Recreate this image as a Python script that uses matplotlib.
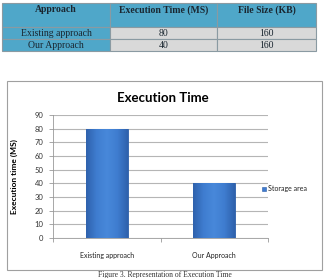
import numpy as np
import matplotlib.pyplot as plt
from matplotlib.patches import Rectangle
from matplotlib.colors import LinearSegmentedColormap

# table data
col_labels = ["Approach", "Execution Time (MS)", "File Size (KB)"]
approaches = ["Existing approach", "Our Approach"]
exec_times = [80, 40]
file_sizes = [160, 160]

# chart data
categories = ["Existing approach", "Our Approach"]
series_name = "Storage area"
series_values = [80, 40]
y_ticks = [0, 10, 20, 30, 40, 50, 60, 70, 80, 90]

W, H = 328, 278
fig = plt.figure(figsize=(W / 100, H / 100), dpi=100)


def box(x0, y0, x1, y1):
    """pixel box (top-left origin) -> figure fraction rect"""
    return [x0 / W, 1 - y1 / H, (x1 - x0) / W, (y1 - y0) / H]


# ---- table ----
header_blue = "#4fa7c9"
cell_gray = "#d9d9d9"
tax = fig.add_axes(box(2, 3, 316, 51))
tax.axis("off")
rows = [[a, str(e), str(f)] for a, e, f in zip(approaches, exec_times, file_sizes)]
tbl = tax.table(cellText=rows, colLabels=[c + "\n" for c in col_labels],
                cellColours=[[header_blue, cell_gray, cell_gray]] * len(rows),
                colColours=[header_blue] * 3, cellLoc="center",
                colWidths=[108, 107, 99], bbox=[0, 0, 1, 1])
tbl.auto_set_font_size(False)
for (r, c), cell in tbl.get_celld().items():
    cell.set_edgecolor("#8a9aa2")
    cell.set_linewidth(0.8)
    cell.set_height(2 if r == 0 else 1)
    cell.get_text().set_fontfamily("Liberation Serif")
    cell.get_text().set_fontsize(7)
    cell.get_text().set_color("#1a2630")
    if r == 0:
        cell.get_text().set_fontweight("bold")

# ---- chart frame (behind the axes) ----
frame = Rectangle((7 / W, 1 - 270 / H), 315 / W, 189 / H,
                  transform=fig.transFigure, facecolor="white",
                  edgecolor="#a0a0a0", linewidth=0.8, zorder=-1)
fig.patches.append(frame)

ax = fig.add_axes(box(53, 115, 268, 238))
ax.patch.set_alpha(0)
x = range(len(categories))
bars = ax.bar(x, series_values, width=0.39, color="#3f7bcf", edgecolor="#2c5ea8",
              linewidth=0.6, zorder=3)

# excel-like shading on the bars
shade = LinearSegmentedColormap.from_list(
    "shade", ["#2f62ad", "#3f7dd0", "#4888da", "#3f7dd0", "#2f62ad"])
grad = np.linspace(0, 1, 64).reshape(1, -1)
for b in bars:
    bx, by = b.get_x(), b.get_y()
    im = ax.imshow(grad, cmap=shade, aspect="auto", zorder=3.5,
                   extent=(bx, bx + b.get_width(), by, by + b.get_height()))
    im.set_clip_path(b)

ax.set_xlim(-0.5, len(categories) - 0.5)
ax.set_ylim(0, 90)
ax.set_yticks(y_ticks)
ax.set_yticklabels([str(t) for t in y_ticks], fontsize=5.5, fontfamily="Lato",
                   color="#333333")
ax.set_xticks(list(x))
ax.set_xticklabels(categories, fontsize=5, fontfamily="Lato", color="#222222")
ax.tick_params(axis="x", length=0, pad=10)
ax.tick_params(axis="y", length=3, width=0.6, color="#999999", pad=4)
ax.set_xticks([-0.5, 0.5, 1.5], minor=True)
ax.tick_params(axis="x", which="minor", length=3, width=0.6, color="#999999")
ax.grid(axis="y", color="#b5b5b5", linewidth=0.8, zorder=0)
for s in ["top", "right"]:
    ax.spines[s].set_visible(False)
for s in ["left", "bottom"]:
    ax.spines[s].set_color("#999999")
    ax.spines[s].set_linewidth(0.6)
ax.set_ylabel("Execution time (MS)", fontsize=6, fontweight="bold",
              fontfamily="Lato")
ax.yaxis.set_label_coords(-35 / 215, 0.5)

fig.text(163 / W, 1 - 98 / H, "Execution Time", ha="center", va="center",
         fontsize=9.5, fontweight="bold", fontfamily="Lato")

# legend
fig.patches.append(Rectangle((262 / W, 1 - 191 / H), 4 / W, 4 / H,
                             transform=fig.transFigure, facecolor="#3f7bcf",
                             edgecolor="#2c5ea8", linewidth=0.4))
fig.text(268 / W, 1 - 189 / H, series_name, ha="left", va="center",
         fontsize=5, fontfamily="Lato", color="#222222")

fig.text(165 / W, 1 - 275 / H, "Figure 3. Representation of Execution Time",
         ha="center", va="center", fontsize=5.5, fontfamily="Liberation Serif",
         color="#333333")

fig.savefig("out.png", dpi=100)
